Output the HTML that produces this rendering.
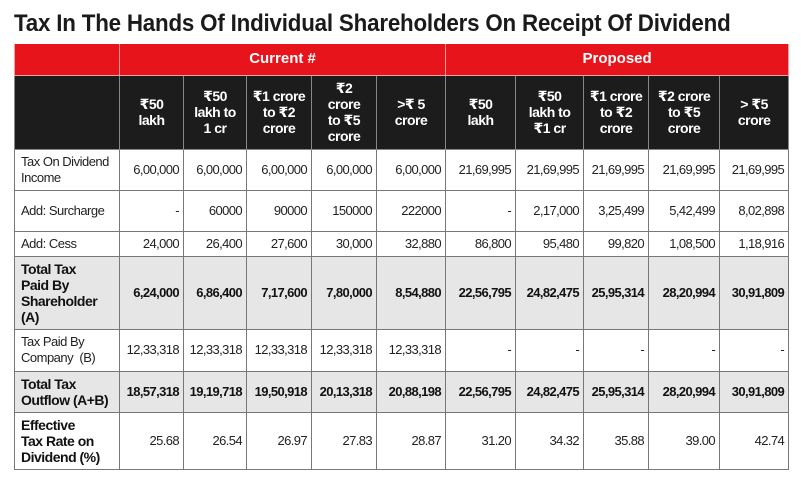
<!DOCTYPE html>
<html><head><meta charset="utf-8">
<style>
body{margin:0;background:#fff;width:801px;height:488px;overflow:hidden;font-family:"Liberation Sans","DejaVu Sans",sans-serif;}
#title{position:absolute;left:14px;top:10px;font-weight:bold;font-size:24px;color:#1a1a1a;white-space:nowrap;transform:scaleX(0.93);transform-origin:left top;letter-spacing:-0.2px}
table{position:absolute;left:14px;top:44px;border-collapse:collapse;table-layout:fixed;width:774px}
td{padding:0 4px;font-size:13px;color:#222;border:1px solid #777;overflow:hidden;line-height:16px}
td.n{text-align:right;letter-spacing:-0.6px}
tr.red td{background:#e8141b;color:#fff;font-weight:bold;text-align:center;font-size:15px;border-color:#f5a0a0;border-top:none}
tr.blk td{background:#1c1c1c;color:#fff;font-weight:bold;text-align:center;font-size:14px;line-height:16px;border-color:#888;letter-spacing:-0.5px}
tr.g td{background:#e6e6e6;font-weight:bold;font-size:13px;color:#111}
tr.b td.l{font-weight:bold;font-size:14px;line-height:16px;color:#111;white-space:nowrap;padding-right:2px}
td.l{text-align:left;padding-left:6px;letter-spacing:-0.5px;padding-right:8px}
</style></head><body>
<div id="title">Tax In The Hands Of Individual Shareholders On Receipt Of Dividend</div>
<table>
<colgroup><col style="width:105px"><col style="width:64px"><col style="width:63px"><col style="width:65px"><col style="width:65px"><col style="width:69px"><col style="width:70px"><col style="width:68px"><col style="width:65px"><col style="width:71px"><col style="width:69px"></colgroup>
<tr class="red" style="height:31px"><td></td><td colspan="5">Current #</td><td colspan="5">Proposed</td></tr>
<tr class="blk" style="height:74px"><td></td>
<td>₹50<br>lakh</td><td>₹50<br>lakh to<br>1 cr</td><td>₹1 crore<br>to ₹2<br>crore</td><td>₹2<br>crore<br>to ₹5<br>crore</td><td>&gt;₹ 5<br>crore</td>
<td>₹50<br>lakh</td><td>₹50<br>lakh to<br>₹1 cr</td><td>₹1 crore<br>to ₹2<br>crore</td><td>₹2 crore<br>to ₹5<br>crore</td><td>&gt; ₹5<br>crore</td></tr>
<tr style="height:41px"><td class="l">Tax On Dividend Income</td><td class="n">6,00,000</td><td class="n">6,00,000</td><td class="n">6,00,000</td><td class="n">6,00,000</td><td class="n">6,00,000</td><td class="n">21,69,995</td><td class="n">21,69,995</td><td class="n">21,69,995</td><td class="n">21,69,995</td><td class="n">21,69,995</td></tr>
<tr style="height:41px"><td class="l">Add: Surcharge</td><td class="n">-</td><td class="n">60000</td><td class="n">90000</td><td class="n">150000</td><td class="n">222000</td><td class="n">-</td><td class="n">2,17,000</td><td class="n">3,25,499</td><td class="n">5,42,499</td><td class="n">8,02,898</td></tr>
<tr style="height:25px"><td class="l">Add: Cess</td><td class="n">24,000</td><td class="n">26,400</td><td class="n">27,600</td><td class="n">30,000</td><td class="n">32,880</td><td class="n">86,800</td><td class="n">95,480</td><td class="n">99,820</td><td class="n">1,08,500</td><td class="n">1,18,916</td></tr>
<tr class="g b" style="height:73px"><td class="l">Total Tax<br>Paid By<br>Shareholder<br>(A)</td><td class="n">6,24,000</td><td class="n">6,86,400</td><td class="n">7,17,600</td><td class="n">7,80,000</td><td class="n">8,54,880</td><td class="n">22,56,795</td><td class="n">24,82,475</td><td class="n">25,95,314</td><td class="n">28,20,994</td><td class="n">30,91,809</td></tr>
<tr style="height:42px"><td class="l">Tax Paid By Company &nbsp;(B)</td><td class="n">12,33,318</td><td class="n">12,33,318</td><td class="n">12,33,318</td><td class="n">12,33,318</td><td class="n">12,33,318</td><td class="n">-</td><td class="n">-</td><td class="n">-</td><td class="n">-</td><td class="n">-</td></tr>
<tr class="g b" style="height:41px"><td class="l">Total Tax<br>Outflow (A+B)</td><td class="n">18,57,318</td><td class="n">19,19,718</td><td class="n">19,50,918</td><td class="n">20,13,318</td><td class="n">20,88,198</td><td class="n">22,56,795</td><td class="n">24,82,475</td><td class="n">25,95,314</td><td class="n">28,20,994</td><td class="n">30,91,809</td></tr>
<tr class="b" style="height:57px"><td class="l">Effective<br>Tax Rate on<br>Dividend (%)</td><td class="n">25.68</td><td class="n">26.54</td><td class="n">26.97</td><td class="n">27.83</td><td class="n">28.87</td><td class="n">31.20</td><td class="n">34.32</td><td class="n">35.88</td><td class="n">39.00</td><td class="n">42.74</td></tr>
</table>
</body></html>
